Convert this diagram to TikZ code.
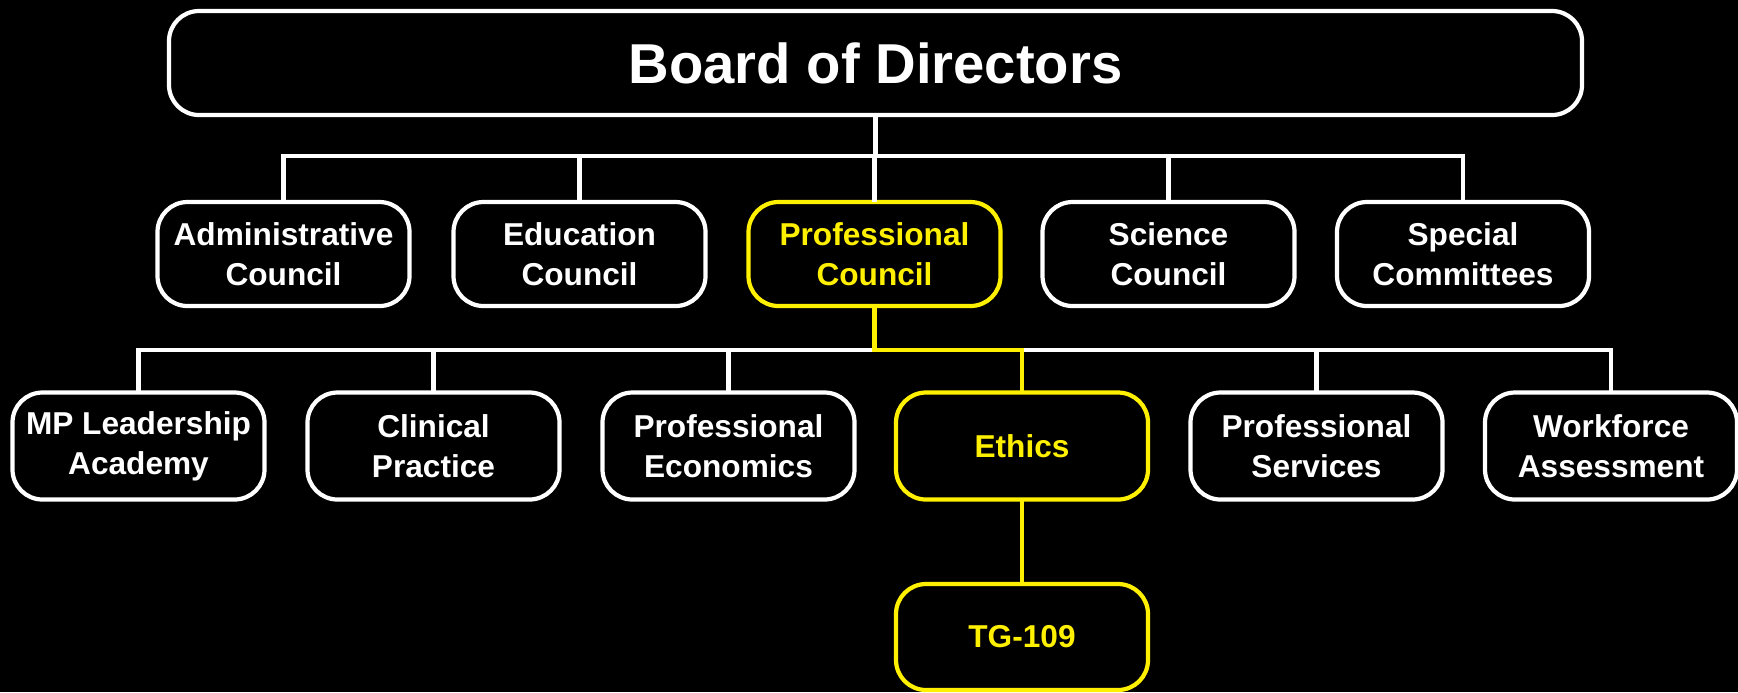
\documentclass[tikz,border=0pt]{standalone}
\usepackage{fontspec}
\setmainfont{Liberation Sans}
\usepackage{xcolor}
\usepackage{tikz}
\usetikzlibrary{positioning, calc}
\definecolor{hiyellow}{RGB}{255, 240, 0}
\tikzset{
  unit/.style={draw=white, line width=1.2pt, rounded corners=0.3cm, fill=black, text=white,
    font=\fontsize{9}{11.4}\selectfont\bfseries, align=center, inner sep=0pt,
    minimum width=2.52cm, minimum height=1.04cm},
  group/.style={unit, minimum height=1.07cm},
  focus/.style={draw=hiyellow, text=hiyellow},
  link/.style={draw=white, line width=1.2pt, line cap=rect},
  focuslink/.style={link, draw=hiyellow}
}

\begin{document}
\begin{tikzpicture}
        % background and frame
        \fill[black] (0,0) rectangle (17.38,-6.92);
        \useasboundingbox (0,0) rectangle (17.38,-6.92);

        % Board
        \node[unit, minimum width=14.13cm, font=\fontsize{16}{19}\selectfont\bfseries] (board) at (8.755,-0.63) {Board of Directors};

        % Councils
        \node[unit] (admin) at (2.835,-2.54) {Administrative\\Council};
        \node[unit] (edu) at (5.795,-2.54) {Education\\Council};
        \node[unit, focus] (prof) at (8.745,-2.54) {Professional\\Council};
        \node[unit] (sci) at (11.685,-2.54) {Science\\Council};
        \node[unit] (spec) at (14.63,-2.54) {Special\\Committees};

        % Committees
        \node[group] (mpla) at (1.385,-4.46) {MP Leadership\\Academy};
        \node[group] (clin) at (4.335,-4.46) {Clinical\\Practice};
        \node[group] (econ) at (7.285,-4.46) {Professional\\Economics};
        \node[group, focus] (ethics) at (10.22,-4.46) {Ethics};
        \node[group] (serv) at (13.165,-4.46) {Professional\\Services};
        \node[group] (work) at (16.11,-4.46) {Workforce\\Assessment};

        % Task group
        \node[unit, focus, minimum height=1.06cm] (tg) at (10.22,-6.37) {TG-109};

        % bus heights
        \coordinate (busA) at (0,-1.56);
        \coordinate (busB) at (0,-3.50);

        % Board to councils
        \draw[link] (board.south) -- (board.south |- busA);
        \draw[link] (admin.north) -- (admin.north |- busA) -- (spec.north |- busA) -- (spec.north);
        \draw[link] (edu.north) -- (edu.north |- busA);
        \draw[link] (prof.north) -- (prof.north |- busA);
        \draw[link] (sci.north) -- (sci.north |- busA);

        % Professional Council to committees
        \draw[link] (mpla.north) -- (mpla.north |- busB) -- (prof.south |- busB);
        \draw[link] (clin.north) -- (clin.north |- busB);
        \draw[link] (econ.north) -- (econ.north |- busB);
        \draw[link] (ethics.north |- busB) -- (work.north |- busB) -- (work.north);
        \draw[link] (serv.north) -- (serv.north |- busB);

        % highlighted path
        \draw[focuslink] (prof.south) -- (prof.south |- busB) -| (ethics.north);
        \draw[focuslink] (ethics.south) -- (tg.north);
    \end{tikzpicture}
\end{document}
